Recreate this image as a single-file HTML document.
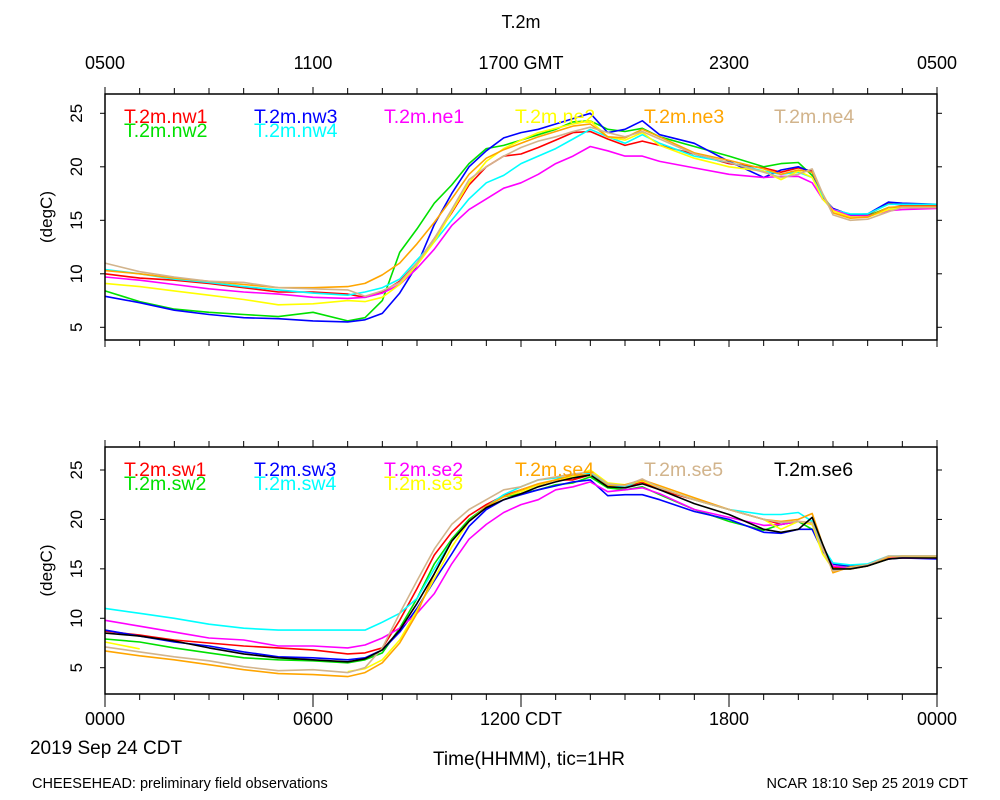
<!DOCTYPE html>
<html><head><meta charset="utf-8"><style>
html,body{margin:0;padding:0;background:#fff;}
svg{display:block;font-family:"Liberation Sans",sans-serif;}
</style></head><body>
<svg id="chart" width="1000" height="800" viewBox="0 0 1000 800"></svg>
<script>
const times = [0,1,2,3,4,5,6,7,7.5,8,8.5,9,9.5,10,10.5,11,11.5,12,12.5,13,13.5,14,14.5,15,15.5,16,17,18,19,19.5,20,20.4,20.7,21,21.5,22,22.6,23,24];
const topNames = ["T.2m.nw1","T.2m.nw2","T.2m.nw3","T.2m.nw4","T.2m.ne1","T.2m.ne2","T.2m.ne3","T.2m.ne4"];
const topColors = ["#ff0000","#00e000","#0000ff","#00ffff","#ff00ff","#ffff00","#ffa500","#d2b48c"];
const nw1 = [10.0,9.6,9.4,9.1,8.7,8.3,8.3,8.1,7.8,8.3,9.3,11.0,13.3,15.7,18.3,20.0,21.0,21.2,21.8,22.5,23.2,23.3,22.6,22.0,22.4,22.0,21.2,20.3,19.9,19.5,19.9,19.6,17.2,16.1,15.5,15.5,16.6,16.4,16.4];
const nw2 = [8.4,7.4,6.7,6.4,6.2,6.0,6.4,5.6,5.9,7.5,12.0,14.2,16.6,18.3,20.3,21.7,22.0,22.5,23.0,23.5,24.2,24.3,23.5,23.3,23.6,22.8,21.9,21.0,20.0,20.3,20.4,19.2,17.0,16.0,15.3,15.4,16.2,16.2,16.2];
const nw3 = [7.9,7.3,6.6,6.2,5.9,5.8,5.6,5.5,5.7,6.3,8.2,10.8,14.6,17.5,20.0,21.5,22.7,23.2,23.5,24.0,24.5,25.0,23.2,23.5,24.3,23.0,22.2,20.5,19.0,19.7,20.0,19.5,17.0,16.1,15.5,15.6,16.7,16.6,16.5];
const nw4 = [10.4,10.0,9.5,9.2,8.8,8.5,8.2,8.0,8.3,8.7,9.5,11.3,13.0,15.0,17.0,18.5,19.2,20.3,21.0,21.7,22.6,23.5,22.8,22.2,23.0,22.2,21.0,20.4,19.6,19.3,19.5,19.0,17.3,16.0,15.6,15.6,16.5,16.5,16.5];
const ne1 = [9.7,9.4,9.0,8.6,8.3,8.1,7.8,7.7,7.8,8.2,9.0,10.5,12.3,14.5,16.0,17.0,18.0,18.5,19.3,20.3,21.0,21.9,21.5,21.0,21.0,20.5,19.9,19.3,19.0,19.1,19.1,18.5,17.0,16.0,15.4,15.4,15.9,16.0,16.1];
const ne2 = [9.1,8.8,8.4,8.0,7.6,7.1,7.2,7.5,7.4,7.8,9.0,10.8,13.0,15.8,18.5,20.5,21.7,22.5,23.2,23.6,24.0,24.3,22.8,22.5,23.2,22.0,20.8,20.0,19.6,18.8,19.6,19.0,17.0,15.9,15.3,15.3,16.0,16.2,16.2];
const ne3 = [10.3,10.0,9.6,9.3,9.0,8.7,8.7,8.8,9.1,9.9,11.0,12.8,14.8,17.0,19.3,20.8,21.6,22.2,22.8,23.3,23.8,24.0,22.8,22.7,23.5,22.8,21.3,20.6,19.8,19.3,19.7,19.5,17.5,15.7,15.2,15.3,16.2,16.3,16.3];
const ne4 = [11.0,10.2,9.7,9.3,9.2,8.7,8.6,8.5,7.9,8.4,9.2,11.0,13.3,16.0,18.8,20.0,21.0,21.8,22.4,22.8,23.3,23.7,23.2,22.8,23.3,22.6,21.2,20.4,19.5,19.0,19.3,19.8,17.5,15.5,15.0,15.1,15.8,16.2,16.2];
const topSeries = [nw1,nw2,nw3,nw4,ne1,ne2,ne3,ne4];

const botNames = ["T.2m.sw1","T.2m.sw2","T.2m.sw3","T.2m.sw4","T.2m.se2","T.2m.se3","T.2m.se4","T.2m.se5","T.2m.se6"];
const botColors = ["#ff0000","#00e000","#0000ff","#00ffff","#ff00ff","#ffff00","#ffa500","#d2b48c","#000000"];
const sw1 = [8.7,8.3,7.8,7.5,7.2,7.0,6.8,6.4,6.5,7.0,9.8,13.0,16.4,18.7,20.4,21.5,22.4,23.0,23.5,24.0,24.0,24.5,23.5,23.3,23.8,23.0,22.0,21.0,20.0,19.5,19.8,19.5,17.0,15.2,15.0,15.3,16.0,16.2,16.1];
const sw2 = [7.9,7.6,7.0,6.5,6.0,5.8,5.7,5.5,5.8,6.5,9.0,12.0,15.5,18.0,20.0,21.3,22.3,22.6,23.0,23.5,23.7,24.3,23.2,23.0,23.3,22.5,21.0,19.8,18.9,19.5,19.8,19.0,17.0,15.5,15.1,15.3,16.0,16.2,16.1];
const sw3 = [8.8,8.2,7.6,7.2,6.6,6.1,6.0,5.8,6.0,6.8,8.6,11.0,13.8,16.5,19.3,21.0,22.0,22.5,23.0,23.4,23.8,24.0,22.4,22.5,22.5,22.0,20.8,20.0,18.7,18.6,19.0,19.0,16.8,15.5,15.3,15.4,16.0,16.1,16.0];
const sw4 = [11.0,10.5,10.0,9.4,9.0,8.8,8.8,8.8,8.8,9.6,10.5,12.0,15.0,17.8,19.8,21.3,22.5,23.3,24.0,24.2,24.3,24.7,23.5,23.3,24.0,23.2,22.0,21.0,20.5,20.5,20.7,19.8,17.2,15.6,15.4,15.5,16.3,16.3,16.3];
const se2 = [9.8,9.2,8.6,8.0,7.8,7.2,7.2,7.0,7.3,8.0,9.0,10.5,12.5,15.5,18.0,19.5,20.7,21.5,22.0,23.0,23.3,23.8,22.8,23.0,23.2,22.6,21.0,20.2,19.4,19.5,19.8,19.5,17.0,15.3,15.1,15.3,16.1,16.1,16.1];
const se3 = [7.6,6.9,null,null,null,null,null,4.6,4.9,5.8,7.8,10.8,14.0,17.2,19.8,21.3,22.3,22.8,23.5,24.0,24.3,25.0,23.7,23.5,23.9,23.2,22.0,21.0,20.0,19.0,19.8,19.5,16.5,15.0,15.0,15.3,16.2,16.3,16.2];
const se4 = [6.7,6.2,5.8,5.3,4.8,4.4,4.3,4.1,4.5,5.5,7.5,10.5,14.5,17.8,19.8,21.3,22.3,23.0,23.6,24.0,24.5,24.5,23.4,23.5,24.0,23.4,22.2,21.0,20.0,19.8,20.0,20.6,17.5,14.6,15.2,15.4,16.2,16.3,16.3];
const se5 = [7.1,6.6,6.1,5.7,5.1,4.7,4.8,4.5,5.0,7.0,10.5,13.8,17.0,19.5,21.0,22.0,23.0,23.3,24.0,24.3,24.6,24.8,23.6,23.4,24.1,23.2,22.0,21.0,20.0,19.7,19.8,19.7,17.0,14.8,15.1,15.4,16.3,16.3,16.3];
const se6 = [8.5,8.2,7.7,7.0,6.4,6.0,5.8,5.6,5.9,6.8,8.8,11.5,14.5,17.8,19.8,21.2,22.0,22.6,23.3,23.8,24.2,24.5,23.3,23.2,23.6,23.0,21.6,20.5,19.0,18.7,19.0,20.2,17.5,15.0,15.0,15.3,16.0,16.1,16.1];
const botSeries = [sw1,sw2,sw3,sw4,se2,se3,se4,se5,se6];

const yTicks = [5,10,15,20,25];
const topXLabels = ["0500","1100","1700 GMT","2300","0500"];
const botXLabels = ["0000","0600","1200 CDT","1800","0000"];

const NS = "http://www.w3.org/2000/svg";
const svg = document.getElementById("chart");
function mk(tag, attrs, parent){ const e=document.createElementNS(NS,tag); for(const k in attrs) e.setAttribute(k,attrs[k]); (parent||svg).appendChild(e); return e; }

const X0=105, X1=937;
function xs(h){ return X0 + (X1-X0)*h/24; }

function panel(name, top, bottom, yA, yB, vA, vB, series, names, colors, labelsOnTop){
  const g = mk("g",{});
  
  
  const ys = v => yA + (v - vA) * (yB - yA) / (vB - vA);
  series.forEach((s,i)=>{
    let d=""; let pen=false;
    s.forEach((v,j)=>{ if(v===null){pen=false;return;} d += (pen?"L":"M")+xs(times[j]).toFixed(1)+" "+ys(v).toFixed(1)+" "; pen=true; });
    const p = mk("path",{d:d,fill:"none",stroke:colors[i],"stroke-width":"1.6","stroke-linejoin":"round"},g);
    
    
  });
  const fr = mk("rect",{x:X0,y:top,width:X1-X0,height:bottom-top,fill:"none",stroke:"#000","stroke-width":"1.5"},g);
  
  
  for(let h=0;h<=24;h++){
    const L = (h%6===0)?7:6;
    mk("line",{x1:xs(h),x2:xs(h),y1:top,y2:top-L,stroke:"#000","stroke-width":"1"},g);
    mk("line",{x1:xs(h),x2:xs(h),y1:bottom,y2:bottom+L+(h%6===0&&!labelsOnTop?6:0),stroke:"#000","stroke-width":"1"},g);
  }
  yTicks.forEach(v=>{
    const y=ys(v);
    mk("line",{x1:X0-5,x2:X0,y1:y,y2:y,stroke:"#000","stroke-width":"1"},g);
    mk("line",{x1:X1,x2:X1+5,y1:y,y2:y,stroke:"#000","stroke-width":"1"},g);
    const t = mk("text",{x:0,y:0,transform:"translate(82,"+y+") rotate(-90)","text-anchor":"middle","font-size":"17"},g);
    t.textContent=String(v);
    
    
  });
  const yt = mk("text",{x:0,y:0,transform:"translate(52,"+((top+bottom)/2)+") rotate(-90)","text-anchor":"middle","font-size":"17"},g);
  yt.textContent="(degC)";
  
  
  return {g, ys};
}

const P1 = panel("top-panel",94,340,113.3,327.3,25,5,topSeries,topNames,topColors,true);
const P2 = panel("bottom-panel",447,694,470,667.7,25,5,botSeries,botNames,botColors,false);

function legend(g, names, colors, positions){
  names.forEach((n,i)=>{
    const p=positions[i];
    const t=mk("text",{x:p[0],y:p[1],"font-size":"19.5",fill:colors[i]},g);
    t.textContent=n;
    
    
  });
}
legend(P1.g, topNames, topColors, [[124,123],[124,137],[254,123],[254,137],[384,123],[515,123],[644,123],[774,123]]);
legend(P2.g, botNames, botColors, [[124,476],[124,490],[254,476],[254,490],[384,476],[384,490],[515,476],[644,476],[774,476]]);

topXLabels.forEach((l,i)=>{
  const t=mk("text",{x:xs(i*6),y:69,"text-anchor":"middle","font-size":"18"});
  t.textContent=l;
  
  
});
botXLabels.forEach((l,i)=>{
  const t=mk("text",{x:xs(i*6),y:725,"text-anchor":"middle","font-size":"18"});
  t.textContent=l;
  
  
});
function txt(name,x,y,s,anchor,str){
  const t=mk("text",{x:x,y:y,"font-size":s,"text-anchor":anchor});
  t.textContent=str;
  
  
}
txt("chart-title",521,28,"18","middle","T.2m");
txt("date-label",106,754,"19","middle","2019 Sep 24 CDT");
txt("x-axis-title",529,765,"19","middle","Time(HHMM), tic=1HR");
txt("footer-left",32,788,"14.5","start","CHEESEHEAD: preliminary field observations");
txt("footer-right",968,788,"14.5","end","NCAR 18:10 Sep 25 2019 CDT");
</script>
</body></html>
